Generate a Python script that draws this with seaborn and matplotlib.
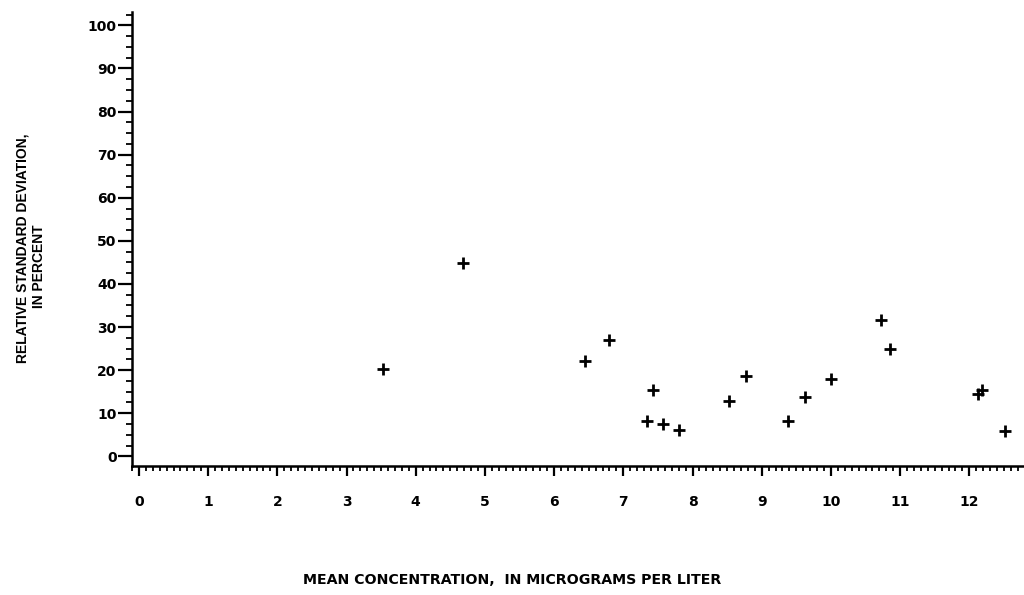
import matplotlib
matplotlib.use("Agg")
import matplotlib.pyplot as plt
from matplotlib.ticker import MultipleLocator
import seaborn as sns
import pandas as pd

# Mean concentration (micrograms per liter) and relative standard deviation (percent)
mean_conc = [3.52, 4.69, 6.44, 6.80, 7.34, 7.43, 7.58, 7.81, 8.52, 8.77,
             9.38, 9.62, 10.00, 10.72, 10.86, 12.12, 12.19, 12.52]
rsd_pct = [20.3, 44.8, 22.2, 27.1, 8.1, 15.5, 7.4, 6.0, 12.8, 18.6,
           8.1, 13.8, 18.0, 31.6, 24.8, 14.4, 15.5, 5.9]

x_ticks = list(range(0, 13))
y_ticks = list(range(0, 101, 10))

df = pd.DataFrame({"conc": mean_conc, "rsd": rsd_pct})

sns.set_style("ticks")
plt.rcParams["font.family"] = ["DejaVu Sans"]
plt.rcParams["font.weight"] = "bold"
plt.rcParams["text.color"] = "black"

fig = plt.figure(figsize=(10.24, 5.95), dpi=100)
ax = fig.add_axes([0.1289, 0.2168, 0.8711, 0.763])

sns.scatterplot(data=df, x="conc", y="rsd", marker="+", s=85,
                color="black", linewidth=2.0, ax=ax, legend=False)

ax.set_xlim(-0.1, 12.79)
ax.set_ylim(-2.25, 103.1)

ax.set_xticks(x_ticks)
ax.set_xticklabels([str(v) for v in x_ticks], fontsize=10, fontweight="bold")
ax.set_yticks(y_ticks)
ax.set_yticklabels([str(v) for v in y_ticks], fontsize=10, fontweight="bold")
ax.xaxis.set_minor_locator(MultipleLocator(0.1))
ax.yaxis.set_minor_locator(MultipleLocator(2.5))

ax.tick_params(axis="x", which="major", direction="out", length=7, width=1.6,
               pad=14, colors="black")
ax.tick_params(axis="x", which="minor", direction="out", length=3.5, width=1.3,
               colors="black")
ax.tick_params(axis="y", which="major", direction="out", length=10, width=1.6,
               pad=1, colors="black")
ax.tick_params(axis="y", which="minor", direction="out", length=4, width=1.3,
               colors="black")

for side in ("top", "right"):
    ax.spines[side].set_visible(False)
for side in ("left", "bottom"):
    ax.spines[side].set_linewidth(1.8)
    ax.spines[side].set_color("black")

ax.set_xlabel("")
ax.set_ylabel("")

fig.text(0.5, 1 - 580 / 595, "MEAN CONCENTRATION,  IN MICROGRAMS PER LITER",
         ha="center", va="center", fontsize=10.2, fontweight="bold",
         color="black", family=["DejaVu Sans"])
ylab_family = ["Liberation Sans Narrow", "Liberation Sans", "DejaVu Sans"]
fig.text(23 / 1024, 1 - 248 / 595, "RELATIVE STANDARD DEVIATION,",
         rotation=90, ha="center", va="center", fontsize=10, fontweight="bold",
         color="black", family=ylab_family)
fig.text(39 / 1024, 1 - 266 / 595, "IN PERCENT",
         rotation=90, ha="center", va="center", fontsize=10, fontweight="bold",
         color="black", family=ylab_family)

fig.savefig("out.png", dpi=100)
